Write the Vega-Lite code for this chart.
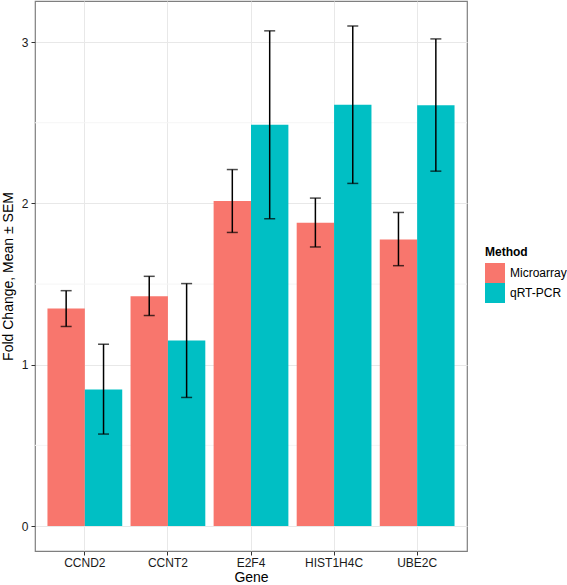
{
  "$schema": "https://vega.github.io/schema/vega-lite/v6.json",
  "width": 432,
  "height": 550,
  "autosize": "none",
  "padding": {"left": 35, "top": 1, "right": 100, "bottom": 34},
  "background": "white",
  "config": {
    "font": "Liberation Sans",
    "view": {"stroke": "#7f7f7f", "strokeWidth": 1.2},
    "axis": {
      "labelFont": "Liberation Sans",
      "titleFont": "Liberation Sans",
      "labelColor": "#1a1a1a",
      "titleColor": "#000000",
      "titleFontWeight": "normal",
      "tickColor": "#333333",
      "domain": false,
      "gridColor": "#e8e8e8",
      "gridWidth": 1
    }
  },
  "data": {
    "values": [
      {"Gene": "CCND2", "Method": "Microarray", "value": 1.348, "lo": 1.237, "hi": 1.459},
      {"Gene": "CCND2", "Method": "qRT-PCR", "value": 0.846, "lo": 0.570, "hi": 1.127},
      {"Gene": "CCNT2", "Method": "Microarray", "value": 1.424, "lo": 1.305, "hi": 1.548},
      {"Gene": "CCNT2", "Method": "qRT-PCR", "value": 1.150, "lo": 0.797, "hi": 1.503},
      {"Gene": "E2F4", "Method": "Microarray", "value": 2.015, "lo": 1.82, "hi": 2.21},
      {"Gene": "E2F4", "Method": "qRT-PCR", "value": 2.487, "lo": 1.905, "hi": 3.07},
      {"Gene": "HIST1H4C", "Method": "Microarray", "value": 1.88, "lo": 1.73, "hi": 2.033},
      {"Gene": "HIST1H4C", "Method": "qRT-PCR", "value": 2.611, "lo": 2.124, "hi": 3.10},
      {"Gene": "UBE2C", "Method": "Microarray", "value": 1.777, "lo": 1.614, "hi": 1.944},
      {"Gene": "UBE2C", "Method": "qRT-PCR", "value": 2.609, "lo": 2.20, "hi": 3.02}
    ]
  },
  "encoding": {
    "x": {
      "field": "Gene", "type": "nominal",
      "scale": {"paddingInner": 0.1, "paddingOuter": 0.15},
      "axis": {
        "labelAngle": 0, "labelFontSize": 12, "titleFontSize": 14,
        "tickSize": 4, "labelPadding": 2, "titlePadding": 2,
        "grid": true, "bandPosition": 0.5
      },
      "title": "Gene"
    },
    "xOffset": {"field": "Method", "type": "nominal", "scale": {"paddingInner": 0, "paddingOuter": 0}}
  },
  "layer": [
    {
      "data": {"values": [{"v": 0.5}, {"v": 1.5}, {"v": 2.5}]},
      "mark": {"type": "rule", "color": "#f5f5f5", "strokeWidth": 1},
      "encoding": {
        "x": null,
        "xOffset": null,
        "y": {"field": "v", "type": "quantitative", "scale": {"domain": [-0.155, 3.255], "nice": false, "zero": false}}
      }
    },
    {
      "mark": {"type": "bar"},
      "encoding": {
        "y": {
          "field": "value", "type": "quantitative",
          "scale": {"domain": [-0.155, 3.255], "nice": false, "zero": false},
          "title": "Fold Change, Mean ± SEM",
          "axis": {
            "values": [0, 1, 2, 3], "format": "d", "labelFontSize": 12, "titleFontSize": 14,
            "tickSize": 4, "labelPadding": 3, "titleX": -20, "grid": true
          }
        },
        "y2": {"datum": 0},
        "color": {
          "field": "Method", "type": "nominal",
          "scale": {"domain": ["Microarray", "qRT-PCR"], "range": ["#F8766D", "#00BFC4"]},
          "legend": {
            "orient": "none", "legendX": 450, "legendY": 246,
            "title": "Method", "titleFontSize": 12, "titleFontWeight": "bold",
            "titleColor": "#000000", "titleFont": "Liberation Sans",
            "labelFont": "Liberation Sans", "labelFontSize": 12, "labelColor": "#000000",
            "symbolType": "square", "symbolSize": 400, "symbolStrokeWidth": 0,
            "rowPadding": -2, "labelOffset": 5, "titlePadding": 4
          }
        }
      }
    },
    {
      "mark": {"type": "rule", "color": "#000000", "strokeWidth": 1.5},
      "encoding": {
        "y": {"field": "lo", "type": "quantitative"},
        "y2": {"field": "hi"}
      }
    },
    {
      "mark": {"type": "tick", "color": "#000000", "thickness": 1.5, "size": 11, "orient": "horizontal"},
      "encoding": {
        "y": {"field": "lo", "type": "quantitative"}
      }
    },
    {
      "mark": {"type": "tick", "color": "#000000", "thickness": 1.5, "size": 11, "orient": "horizontal"},
      "encoding": {
        "y": {"field": "hi", "type": "quantitative"}
      }
    }
  ]
}
